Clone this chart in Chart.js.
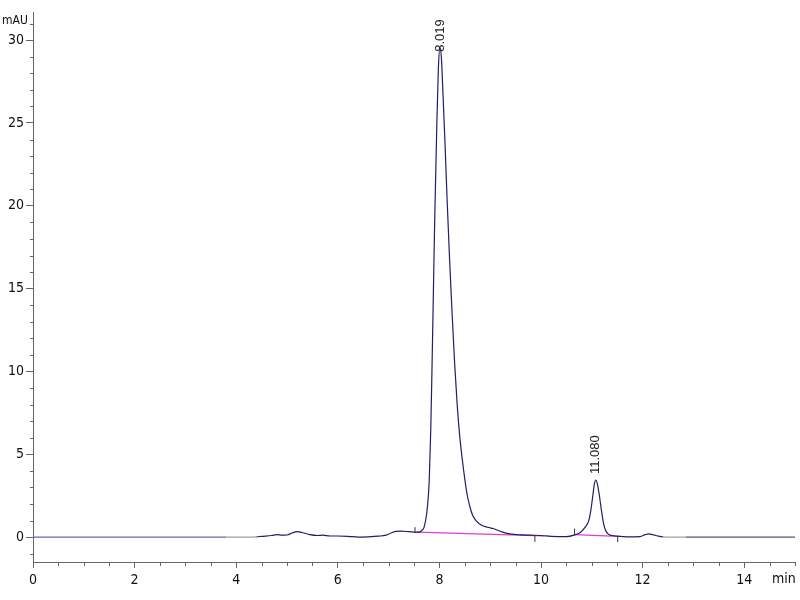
<!DOCTYPE html>
<html>
<head>
<meta charset="utf-8">
<script src="https://cdn.jsdelivr.net/npm/chart.js@4/dist/chart.umd.min.js"></script>
<style>
  html, body { margin: 0; padding: 0; background: #fff; }
  #wrap { width: 800px; height: 600px; }
</style>
</head>
<body>
<div id="wrap"><canvas id="chroma"></canvas></div>
<script>
// ========== Data ==========
const timeMin = [
  0, 3.8, 4.4, 4.5, 4.7, 4.8, 4.9, 5.0, 5.1, 5.2, 5.3, 5.45, 5.6, 5.7, 5.85, 6.0, 6.2, 6.4,
  6.6, 6.8, 6.95, 7.05, 7.15, 7.25, 7.4, 7.55, 7.62, 7.67, 7.7, 7.75, 7.78, 7.8, 7.83, 7.85,
  7.88, 7.91, 7.95, 7.98, 8.01, 8.04, 8.07, 8.11, 8.15, 8.2, 8.25, 8.3, 8.35, 8.4, 8.45, 8.5,
  8.55, 8.6, 8.65, 8.72, 8.83, 8.95, 9.06, 9.23, 9.42, 9.6, 9.8, 10.0, 10.2, 10.5,
  10.65, 10.78, 10.87, 10.94, 10.98, 11.02, 11.05, 11.08, 11.11, 11.15, 11.19, 11.23, 11.27,
  11.32, 11.4, 11.5, 11.7, 11.95, 12.05, 12.12, 12.2, 12.3, 12.4, 12.85, 15
];
const absMAU = [
  0, 0, 0.02, 0.05, 0.1, 0.15, 0.12, 0.13, 0.25, 0.33, 0.28, 0.15, 0.1, 0.12, 0.07, 0.07, 0.05, 0,
  0.02, 0.06, 0.12, 0.25, 0.35, 0.36, 0.33, 0.3, 0.32, 0.45, 0.62, 1.43, 2.4, 3.44, 6.5, 9.47,
  14.5, 19.5, 25.0, 28.3, 29.6, 28.9, 26.8, 23.8, 20.5, 16.8, 13.5, 10.5, 8.0, 6.1, 4.7, 3.5,
  2.5, 1.85, 1.35, 1.0, 0.72, 0.6, 0.52, 0.32, 0.18, 0.14, 0.12, 0.1, 0.05, 0.03,
  0.12, 0.3, 0.6, 1.0, 1.6, 2.5, 3.2, 3.45, 3.2, 2.5, 1.6, 0.85, 0.42,
  0.2, 0.1, 0.06, 0.02, 0.03, 0.15, 0.2, 0.15, 0.07, 0.02, 0, 0
];

// integration baselines (start/end of each peak)
const baseStartT = [7.55, 10.66];
const baseStartY = [0.3, 0.15];
const baseEndT = [10.05, 11.52];
const baseEndY = [0.08, 0.05];

// integration event ticks
const markT = [7.52, 9.88, 10.66, 11.51];
const markY = [0.42, -0.1, 0.33, -0.12];

// peak annotations
const peakT = [8.019, 11.080];
const peakH = [29.6, 3.45];
const peakLabels = ['8.019', '11.080'];

const xMajor = [0, 2, 4, 6, 8, 10, 12, 14];
const yMajor = [0, 5, 10, 15, 20, 25, 30];

// ========== Styles ==========
const axisColor = '#666';
const tickFont = { family: '"Liberation Sans Narrow", "DejaVu Sans Condensed", "Liberation Sans", sans-serif', size: 14 };
const labelGap = [-5, 6]; // px between apex and label start

const trace = timeMin.map((t, i) => ({ x: t, y: absMAU[i] }));
const baselines = baseStartT.map((t, i) => ({
  type: 'scatter', showLine: true, data: [{ x: t, y: baseStartY[i] }, { x: baseEndT[i], y: baseEndY[i] }],
  borderColor: '#e03ad8', borderWidth: 1.3, pointRadius: 0, order: 2
}));

const overlay = {
  id: 'overlay',
  afterDraw(chart) {
    const { ctx, scales: { x, y } } = chart;
    ctx.save();
    ctx.strokeStyle = axisColor;
    ctx.lineWidth = 1;
    // minor ticks
    ctx.beginPath();
    for (let v = 0.5; v <= 15; v += 0.5) {
      if (xMajor.includes(v)) continue;
      const px = Math.round(x.getPixelForValue(v)) + 0.5;
      ctx.moveTo(px, x.top); ctx.lineTo(px, x.top + 4);
    }
    for (let v = -1; v <= 31; v += 1) {
      if (yMajor.includes(v)) continue;
      const py = Math.round(y.getPixelForValue(v)) + 0.5;
      ctx.moveTo(y.right - 3, py); ctx.lineTo(y.right, py);
    }
    ctx.stroke();

    // units
    ctx.fillStyle = '#111';
    ctx.font = '12px ' + tickFont.family;
    ctx.textBaseline = 'middle';
    ctx.textAlign = 'left';
    ctx.fillText('mAU', 2, 21);
    ctx.font = tickFont.size + 'px ' + tickFont.family;
    ctx.textAlign = 'center';
    ctx.textBaseline = 'top';
    ctx.fillText('min', x.getPixelForValue(14.78), x.top + 10);

    // peak retention times
    ctx.fillStyle = '#222';
    ctx.font = '13px "Liberation Sans", Arial, sans-serif';
    ctx.textAlign = 'left';
    ctx.textBaseline = 'middle';
    peakT.forEach((t, i) => {
      ctx.save();
      ctx.translate(x.getPixelForValue(t), y.getPixelForValue(peakH[i]) - labelGap[i]);
      ctx.rotate(-Math.PI / 2);
      ctx.fillText(peakLabels[i], 0, 0);
      ctx.restore();
    });
    ctx.restore();
  }
};

new Chart(document.getElementById('chroma'), {
  type: 'scatter',
  data: {
    datasets: [
      {
        data: trace, showLine: true, pointRadius: 0, borderWidth: 1.2, order: 1,
        cubicInterpolationMode: 'monotone',
        borderColor: '#1f1f66',
        segment: {
          borderColor: c => {
            const t = c.p0.parsed.x;
            if (t < 3.8) return '#6464b4';
            if (t < 4.4) return '#a0a0a8';
            if (t >= 12.4 && t < 12.85) return '#a0a0a8';
            if (t >= 12.85) return '#50508a';
            return '#1f1f66';
          }
        }
      },
      ...baselines,
      {
        data: markT.map((t, i) => ({ x: t, y: markY[i] })),
        pointStyle: 'line', rotation: 90, pointRadius: 3, borderWidth: 1,
        borderColor: '#333', backgroundColor: '#333', order: 0
      }
    ]
  },
  options: {
    responsive: true, maintainAspectRatio: false, animation: false,
    layout: { padding: { top: 12, right: 5, left: 0, bottom: 0 } },
    plugins: { legend: { display: false }, tooltip: { enabled: false } },
    scales: {
      x: {
        type: 'linear', min: 0, max: 15,
        afterBuildTicks: s => { s.ticks = xMajor.map(v => ({ value: v })); },
        afterFit: s => { s.height = 38; },
        grid: { drawOnChartArea: false, drawTicks: true, tickLength: 6, color: axisColor },
        border: { display: true, color: axisColor },
        ticks: { color: '#111', font: tickFont, padding: 4, maxRotation: 0 }
      },
      y: {
        type: 'linear', min: -1.5, max: 31.7,
        afterBuildTicks: s => { s.ticks = yMajor.map(v => ({ value: v })); },
        afterFit: s => { s.width = 33; },
        grid: { drawOnChartArea: false, drawTicks: true, tickLength: 7, color: axisColor },
        border: { display: true, color: axisColor },
        ticks: { color: '#111', font: tickFont, padding: 2 }
      }
    }
  },
  plugins: [overlay]
});
</script>
</body>
</html>
